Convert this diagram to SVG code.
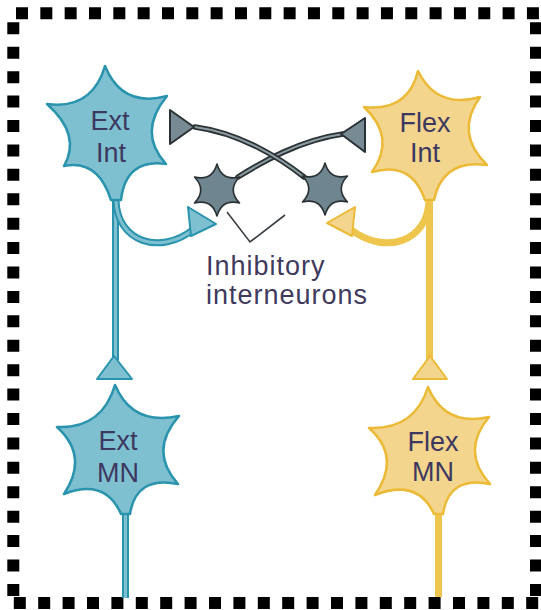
<svg xmlns="http://www.w3.org/2000/svg" width="541" height="610" viewBox="0 0 541 610">
  <style>
    .frame { fill: none; stroke: #000; stroke-width: 12; }
    .ext-body { fill: #7fc0d0; stroke: #2a93ad; stroke-width: 2.5; stroke-linejoin: round; }
    .flex-body { fill: #f4d58d; stroke: #ebba36; stroke-width: 2.5; stroke-linejoin: round; }
    .inh-body { fill: #6f8690; stroke: #2b3235; stroke-width: 1.6; stroke-linejoin: round; }
    .ext-ax-out { fill: none; stroke: #2a93ad; stroke-width: 7; stroke-linecap: butt; }
    .ext-ax-in { fill: none; stroke: #7fc0d0; stroke-width: 3; stroke-linecap: butt; }
    .flex-ax { fill: none; stroke: #efc64d; stroke-width: 7; stroke-linecap: butt; }
    .inh-ax-out { fill: none; stroke: #2b3235; stroke-width: 5.5; stroke-linecap: round; }
    .inh-ax-in { fill: none; stroke: #8b9ca3; stroke-width: 2; stroke-linecap: round; }
    .ext-term { fill: #7fc0d0; stroke: #2a93ad; stroke-width: 2; stroke-linejoin: round; }
    .flex-term { fill: #f4d58d; stroke: #ebba36; stroke-width: 2; stroke-linejoin: round; }
    .inh-term { fill: #788b94; stroke: #2b3235; stroke-width: 2; stroke-linejoin: round; }
    .pointer { fill: none; stroke: #3a3f44; stroke-width: 1.6; stroke-linejoin: miter; }
    .lbl { font-family: "Liberation Sans", Arial, sans-serif; font-size: 27px; fill: #3d3860; text-anchor: middle; }
    .note { font-family: "Liberation Sans", Arial, sans-serif; font-size: 27px; letter-spacing: 1px; fill: #3f3a5e; }
  </style>

  <!-- dotted frame -->
  <g id="frame">
    <line class="frame" x1="16" y1="13.3" x2="540" y2="13.3" stroke-dasharray="12 12.33"/>
    <line class="frame" x1="13.3" y1="22.3" x2="13.3" y2="597" stroke-dasharray="12 12.42"/>
    <line class="frame" x1="13.8" y1="603" x2="541" y2="603" stroke-dasharray="12 12.4"/>
    <line class="frame" x1="536" y1="22.3" x2="536" y2="597" stroke-dasharray="12 12.42"/>
  </g>

  <!-- connectors: axons, terminals and the label pointer -->
  <g id="connectors">
    <!-- extensor pathway -->
    <path class="ext-ax-out" d="M115.5 196 V360"/>
    <path class="ext-ax-in" d="M115.5 196 V360"/>
    <path class="ext-ax-out" d="M116 200 C117 242 160 256 194 229"/>
    <path class="ext-ax-in" d="M116 200 C117 242 160 256 194 229"/>
    <polygon class="ext-term" points="188,207 216,224 191,236"/>
    <polygon class="ext-term" points="114,356 97,379 132,379"/>
    <path class="ext-ax-out" d="M125.5 510 V598"/>
    <path class="ext-ax-in" d="M125.5 510 V598"/>

    <!-- flexor pathway -->
    <path class="flex-ax" d="M429.5 196 V360"/>
    <path class="flex-ax" d="M429 200 C428 242 385 256 350 229"/>
    <polygon class="flex-term" points="355,207 327,223 352,236"/>
    <polygon class="flex-term" points="430,356 413,379 447,379"/>
    <path class="flex-ax" d="M438.5 510 V597"/>

    <!-- crossed inhibitory axons -->
    <path class="inh-ax-out" d="M238 177 C262 162 300 140 343 134"/>
    <path class="inh-ax-in" d="M238 177 C262 162 300 140 343 134"/>
    <polygon class="inh-term" points="341,134 365,118 365,152"/>
    <path class="inh-ax-out" d="M304 177 C280 158 240 133 195 127"/>
    <path class="inh-ax-in" d="M304 177 C280 158 240 133 195 127"/>
    <polygon class="inh-term" points="194,127 170,110 170,144"/>

    <!-- label pointer -->
    <polyline class="pointer" points="227,212 250,242 285,215"/>
  </g>

  <g id="ext-int">
    <path class="ext-body" d="M105 66 Q122 108 167 96 Q137 132.5 166 164 Q125.75 158.5 121 200 L111 200 Q98 159 64 166 Q81.75 135 47 104 Q92 110 105 66 Z"/>
    <text class="lbl" x="110" y="130">Ext</text>
    <text class="lbl" x="111" y="162">Int</text>
  </g>

  <g id="flex-int">
    <path class="flex-body" d="M418 71 Q437 109.5 480 97 Q454.25 133 487 165 Q442.75 158.75 434 200 L425 200 Q411.75 160.5 372 172 Q396.5 137.25 364 107 Q408 112 418 71 Z"/>
    <text class="lbl" x="425" y="132">Flex</text>
    <text class="lbl" x="425" y="162">Int</text>
  </g>

  <g id="ext-mn">
    <path class="ext-body" d="M115 385 Q132.5 426.25 179 416 Q148.25 451 178 484 Q136 475.5 130 514 L121 514 Q105.25 478 64 494 Q89.25 456.25 57 427 Q102 429 115 385 Z"/>
    <text class="lbl" x="118" y="450">Ext</text>
    <text class="lbl" x="118" y="482">MN</text>
  </g>

  <g id="flex-mn">
    <path class="flex-body" d="M428 387 Q444.75 427 489 417 Q460.25 451.25 490 484 Q448.75 475.5 443 514 L434 514 Q417.75 478.25 375 495 Q401.5 456.75 369 428 Q414.75 429.75 428 387 Z"/>
    <text class="lbl" x="433" y="451">Flex</text>
    <text class="lbl" x="433" y="481">MN</text>
  </g>

  <g id="inh-left">
    <path class="inh-body" d="M217 164 Q222 181.3 239.5 177 Q227 190 239.5 203 Q222 198.7 217 216 Q212 198.7 194.5 203 Q207 190 194.5 177 Q212 181.3 217 164 Z"/>
  </g>

  <g id="inh-right">
    <path class="inh-body" d="M325 163 Q330 180.3 347.5 176 Q335 189 347.5 202 Q330 197.7 325 215 Q320 197.7 302.5 202 Q315 189 302.5 176 Q320 180.3 325 163 Z"/>
  </g>

  <g id="inh-label">
    <text class="note" x="206" y="275">Inhibitory</text>
    <text class="note" x="206" y="304">interneurons</text>
  </g>
</svg>
